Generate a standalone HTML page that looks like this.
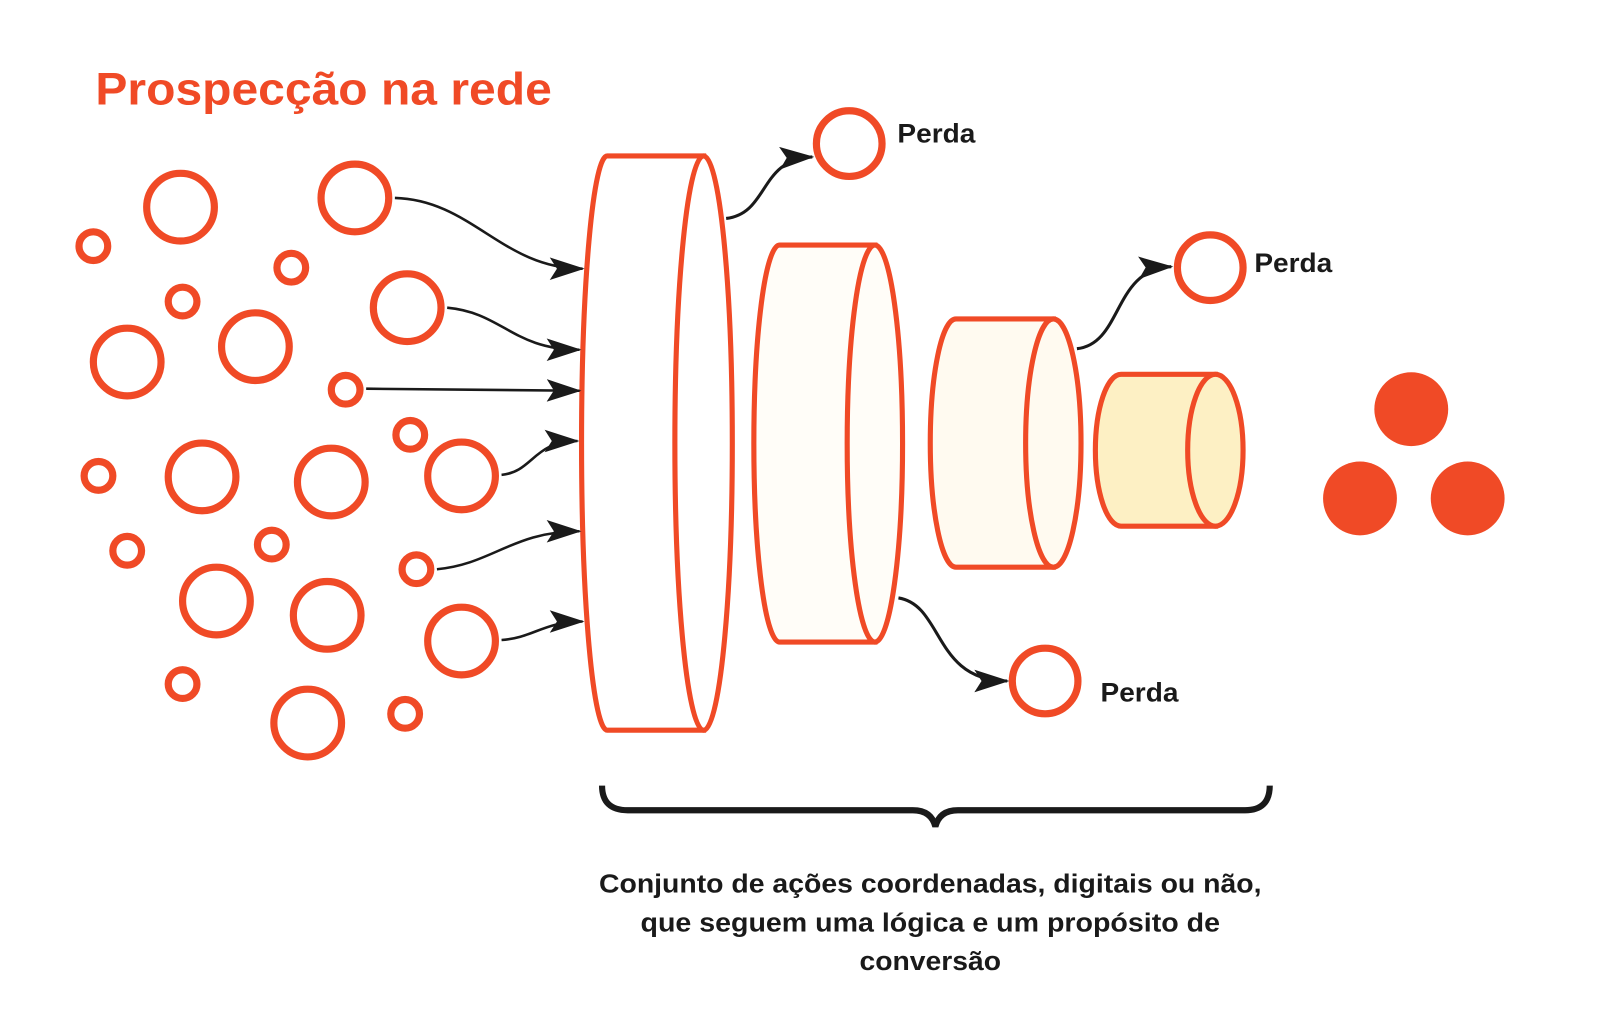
<!DOCTYPE html>
<html><head><meta charset="utf-8"><style>html,body{margin:0;padding:0;background:#fff}svg{display:block}</style></head>
<body>
<svg width="1600" height="1017" viewBox="0 0 1560 991.6" xmlns="http://www.w3.org/2000/svg">
<defs>
<marker id="b" markerWidth="34" markerHeight="22" refX="32" refY="11" orient="auto" markerUnits="userSpaceOnUse"><path d="M0,0 L34,11 L0,22 L7,11 Z" fill="#1a1a1a"/></marker></defs>
<text x="93" y="102" font-family="Liberation Sans, sans-serif" font-weight="bold" font-size="44" fill="#f04a26" textLength="445" lengthAdjust="spacingAndGlyphs">Prospecção na rede</text>
<g fill="none" stroke="#f04a26" stroke-width="7">
<circle cx="176" cy="202" r="33"/><circle cx="346" cy="193" r="33"/><circle cx="397" cy="300" r="33"/><circle cx="124" cy="353" r="33"/><circle cx="249" cy="338" r="33"/><circle cx="197" cy="465" r="33"/><circle cx="323" cy="470" r="33"/><circle cx="450" cy="464" r="33"/><circle cx="211" cy="586" r="33"/><circle cx="319" cy="600" r="33"/><circle cx="450" cy="625" r="33"/><circle cx="300" cy="705" r="33"/>
<circle cx="91" cy="240" r="14"/><circle cx="284" cy="261" r="14"/><circle cx="178" cy="294" r="14"/><circle cx="337" cy="380" r="14"/><circle cx="400" cy="424" r="14"/><circle cx="96" cy="464" r="14"/><circle cx="124" cy="537" r="14"/><circle cx="265" cy="531" r="14"/><circle cx="406" cy="555" r="14"/><circle cx="178" cy="667" r="14"/><circle cx="395" cy="696" r="14"/>
<circle cx="828" cy="140" r="32"/><circle cx="1180" cy="261" r="32"/><circle cx="1019" cy="664" r="32"/>
</g>
<g fill="#f04a26"><circle cx="1376" cy="399" r="36"/><circle cx="1326" cy="486" r="36"/><circle cx="1431" cy="486" r="36"/></g>
<g stroke="#f04a26" stroke-width="5">
<path d="M592,152 L686,152 L686,712 L592,712 A25,280 0 0 1 592,152 Z" fill="#fff"/>
<ellipse cx="686" cy="432" rx="28" ry="280" fill="#fff"/>
<path d="M760,239 L853,239 L853,626 L760,626 A25,193.5 0 0 1 760,239 Z" fill="#fffdf8"/>
<ellipse cx="853" cy="432.5" rx="27" ry="193.5" fill="#fffdf8"/>
<path d="M932,311 L1027,311 L1027,553 L932,553 A25,121 0 0 1 932,311 Z" fill="#fffaf0"/>
<ellipse cx="1027" cy="432" rx="27" ry="121" fill="#fffaf0"/>
<path d="M1093,365 L1185,365 L1185,513 L1093,513 A25,74 0 0 1 1093,365 Z" fill="#fdf0c4"/>
<ellipse cx="1185" cy="439" rx="27" ry="74" fill="#fdf0c4"/>
</g>
<g fill="none" stroke="#1a1a1a" stroke-width="2.5">
<path d="M385,193 C460,195 490,262 568,262" marker-end="url(#b)"/>
<path d="M436,300 C490,305 500,341 565,341" marker-end="url(#b)"/>
<path d="M357,379 L565,381" marker-end="url(#b)"/>
<path d="M489,463 C520,460 520,430 563,430" marker-end="url(#b)"/>
<path d="M426,555 C480,550 500,518 565,518" marker-end="url(#b)"/>
<path d="M489,624 C520,622 530,606 568,606" marker-end="url(#b)"/>
<path d="M708,213 C750,208 740,155 792,153" marker-end="url(#b)" stroke-width="3"/>
<path d="M1050,340 C1095,335 1085,262 1142,260" marker-end="url(#b)" stroke-width="3"/>
<path d="M876,583 C920,590 910,664 982,664" marker-end="url(#b)" stroke-width="3"/>
</g>
<g font-family="Liberation Sans, sans-serif" font-weight="bold" font-size="26" fill="#1a1a1a">
<text x="875" y="139" textLength="76" lengthAdjust="spacingAndGlyphs">Perda</text>
<text x="1223" y="265" textLength="76" lengthAdjust="spacingAndGlyphs">Perda</text>
<text x="1073" y="684" textLength="76" lengthAdjust="spacingAndGlyphs">Perda</text>
</g>
<path d="M587,766 Q587,790 612,790 L890,790 Q908,790 912,806 Q916,790 934,790 L1214,790 Q1238,790 1238,766" fill="none" stroke="#1a1a1a" stroke-width="6"/>
<g font-family="Liberation Sans, sans-serif" font-weight="bold" font-size="25" fill="#1a1a1a" text-anchor="middle">
<text x="907" y="870" textLength="646" lengthAdjust="spacingAndGlyphs">Conjunto de ações coordenadas, digitais ou não,</text>
<text x="907" y="908" textLength="565" lengthAdjust="spacingAndGlyphs">que seguem uma lógica e um propósito de</text>
<text x="907" y="946" textLength="138" lengthAdjust="spacingAndGlyphs">conversão</text>
</g>
</svg>
</body></html>
